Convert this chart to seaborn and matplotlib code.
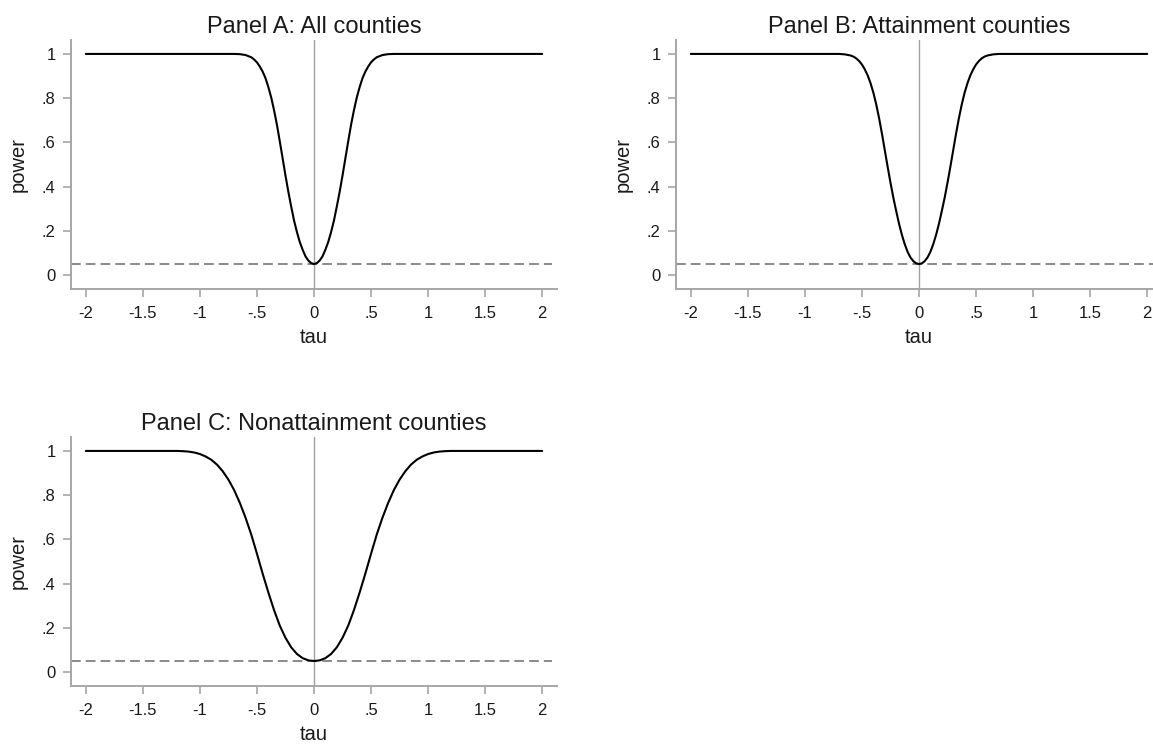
import numpy as np
import pandas as pd
import matplotlib
matplotlib.use("Agg")
import matplotlib.pyplot as plt
import seaborn as sns

# ---- data (left half; curves are symmetric about tau = 0) ----
tau_ab_left = [-2.0, -1.5, -1.0, -0.7, -0.65, -0.6, -0.575, -0.55, -0.525, -0.5, -0.475, -0.45,
               -0.425, -0.4, -0.375, -0.35, -0.325, -0.3, -0.275, -0.25, -0.225, -0.2, -0.175,
               -0.15, -0.125, -0.1, -0.075, -0.05, -0.025, 0.0]
power_a_left = [1.0, 1.0, 1.0, 1.0, 0.999, 0.995, 0.99, 0.985, 0.975, 0.962, 0.943, 0.92,
                0.89, 0.85, 0.803, 0.745, 0.68, 0.605, 0.528, 0.45, 0.377, 0.31, 0.247,
                0.195, 0.15, 0.115, 0.085, 0.066, 0.054, 0.05]
power_b_left = [1.0, 1.0, 1.0, 1.0, 0.998, 0.993, 0.988, 0.98, 0.968, 0.952, 0.93, 0.903,
                0.868, 0.825, 0.772, 0.71, 0.64, 0.565, 0.49, 0.418, 0.35, 0.29, 0.232,
                0.182, 0.14, 0.105, 0.08, 0.063, 0.053, 0.05]

tau_c_left = [-2.0, -1.5, -1.2, -1.15, -1.1, -1.05, -1.0, -0.95, -0.9, -0.85, -0.8, -0.75,
              -0.7, -0.65, -0.6, -0.55, -0.5, -0.45, -0.4, -0.35, -0.3, -0.25, -0.2, -0.15,
              -0.1, -0.05, 0.0]
power_c_left = [1.0, 1.0, 1.0, 0.999, 0.997, 0.993, 0.986, 0.975, 0.96, 0.938, 0.908, 0.87,
                0.823, 0.765, 0.698, 0.622, 0.535, 0.445, 0.36, 0.28, 0.21, 0.155, 0.112, 0.082,
                0.063, 0.053, 0.05]

titles = ["Panel A: All counties", "Panel B: Attainment counties", "Panel C: Nonattainment counties"]
xticks = [-2, -1.5, -1, -0.5, 0, 0.5, 1, 1.5, 2]
xticklabels = ["-2", "-1.5", "-1", "-.5", "0", ".5", "1", "1.5", "2"]
yticks = [0, 0.2, 0.4, 0.6, 0.8, 1.0]
yticklabels = ["0", ".2", ".4", ".6", ".8", "1"]
alpha_level = 0.05


def mirror(tau_left, p_left):
    tau = list(tau_left) + [-t for t in reversed(tau_left[:-1])]
    p = list(p_left) + list(reversed(p_left[:-1]))
    return pd.DataFrame({"tau": tau, "power": p})


sns.set_theme(style="white")
plt.rcParams['font.family'] = ['Liberation Sans', 'DejaVu Sans']

W, H = 1153, 744
fig = plt.figure(figsize=(W / 100, H / 100), dpi=100)

# axes boxes in pixels: (left, top, right, bottom)
boxes = [(71, 40, 557, 289), (676, 40, 1162, 289), (71, 437, 557, 686)]
frames = [mirror(tau_ab_left, power_a_left), mirror(tau_ab_left, power_b_left),
          mirror(tau_c_left, power_c_left)]

spine_col = "#a6a6a6"
text_col = "#1a1a1a"

for (l, t, r, b), df, title in zip(boxes, frames, titles):
    ax = fig.add_axes([l / W, 1 - b / H, (r - l) / W, (b - t) / H])
    ax.set_xlim(-2.13, 2.13)
    ax.set_ylim(-0.063, 1.063)
    ax.axvline(0, color="#a0a0a0", lw=1.0, zorder=1)
    ax.axhline(alpha_level, xmin=0.0, xmax=0.99, color="#8a8a8a", lw=1.4,
               dashes=(5, 2.6), zorder=1)
    sns.lineplot(data=df, x="tau", y="power", ax=ax, color="black", lw=1.5,
                 sort=False, estimator=None, zorder=3)
    for s in ["top", "right"]:
        ax.spines[s].set_visible(False)
    for s in ["left", "bottom"]:
        ax.spines[s].set_color(spine_col)
        ax.spines[s].set_linewidth(1.4)
    ax.set_xticks(xticks)
    ax.set_xticklabels(xticklabels)
    ax.set_yticks(yticks)
    ax.set_yticklabels(yticklabels)
    ax.tick_params(axis="both", direction="out", length=6, width=1.2, color=spine_col,
                   labelsize=12, labelcolor=text_col, left=True, bottom=True)
    ax.tick_params(axis="x", pad=6)
    ax.tick_params(axis="y", pad=5)
    ax.set_xlabel("tau", fontsize=14.5, color=text_col, labelpad=5)
    ax.set_ylabel("power", fontsize=14.5, color=text_col, labelpad=10)
    ax.set_title(title, fontsize=17, color=text_col, pad=5)
    ax.grid(False)

fig.savefig("out.png", dpi=100, facecolor="white")
